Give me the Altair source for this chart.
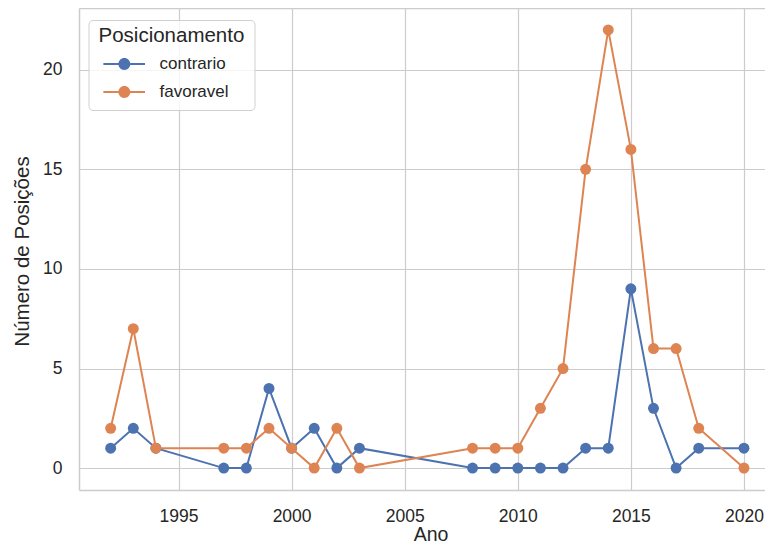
import altair as alt
import pandas as pd

anos = [1992, 1993, 1994, 1997, 1998, 1999, 2000, 2001, 2002, 2003, 2008,
        2009, 2010, 2011, 2012, 2013, 2014, 2015, 2016, 2017, 2018, 2020]
contrario = [1, 2, 1, 0, 0, 4, 1, 2, 0, 1, 0, 0, 0, 0, 0, 1, 1, 9, 3, 0, 1, 1]
favoravel = [2, 7, 1, 1, 1, 2, 1, 0, 2, 0, 1, 1, 1, 3, 5, 15, 22, 16, 6, 6, 2, 0]
series = ["contrario", "favoravel"]
colors = ["#4c72b0", "#dd8452"]
x_ticks = [1995, 2000, 2005, 2010, 2015, 2020]
y_ticks = [0, 5, 10, 15, 20]

rows = []
for nome, vals in zip(series, [contrario, favoravel]):
    for a, v in zip(anos, vals):
        rows.append({"Ano": a, "Posicionamento": nome, "Posicoes": v})
df = pd.DataFrame(rows)

FONT = "Liberation Sans"
TXT = "#262626"
SPINE = "#cccccc"

# line + dot legend glyph (unit = sqrt(symbolSize)/2 px)
SYMBOL = ("M-0.56,-0.16H5.85V0.16H-0.56Z "
          "M3.59,0A0.92,0.92 0 1,1 1.75,0A0.92,0.92 0 1,1 3.59,0Z")

x_scale = alt.Scale(domain=[1990.6, 2020.93], nice=False, zero=False)
y_scale = alt.Scale(domain=[-1.1, 23.1], nice=False, zero=False)

x_bottom = alt.Axis(values=x_ticks, format="d", title="Ano", orient="bottom",
                    domain=True, domainColor=SPINE, domainWidth=1.5,
                    titleBaseline="alphabetic", titleY=50, titleX=351.5,
                    titleFontSize=19.5)
x_top = alt.Axis(orient="top", labels=False, grid=False, title=None,
                 domain=True, domainColor=SPINE, domainWidth=1.5)
y_left = alt.Axis(values=y_ticks, title="Número de Posições",
                  domain=True, domainColor=SPINE, domainWidth=1.5,
                  titleBaseline="alphabetic", titleX=-51, titleY=243,
                  titleFontSize=20.5)

legend = alt.Legend(
    title="Posicionamento", orient="none", legendX=9.5, legendY=12,
    symbolType=SYMBOL, symbolSize=169, symbolStrokeWidth=0,
    labelOffset=44, padding=10, rowPadding=10, titlePadding=5,
    titleBaseline="line-top", titleLineHeight=12,
    fillColor="rgba(255,255,255,0.8)", strokeColor="#d0d0d0",
    cornerRadius=4, titleFontSize=20.5, titleFontWeight="normal",
    labelFontSize=17, titleColor=TXT, labelColor=TXT,
    titleFont=FONT, labelFont=FONT,
)

layers = []
for i, nome in enumerate(series):
    sub = alt.Chart(df).transform_filter(alt.datum.Posicionamento == nome)
    line = sub.mark_line(strokeWidth=2, clip=True, color=colors[i]).encode(
        x=alt.X("Ano:Q", scale=x_scale, axis=x_bottom if i == 0 else None),
        y=alt.Y("Posicoes:Q", scale=y_scale, axis=y_left),
    )
    pts = sub.mark_point(filled=True, size=120, opacity=1, clip=True).encode(
        x=alt.X("Ano:Q", scale=x_scale, axis=x_top if i == 0 else None),
        y=alt.Y("Posicoes:Q", scale=y_scale, axis=y_left),
        color=alt.Color("Posicionamento:N",
                        scale=alt.Scale(domain=series, range=colors),
                        legend=legend),
    )
    layers += [line, pts]

chart = alt.layer(*layers).resolve_axis(x="independent").properties(
    width=686, height=482,
    autosize=alt.AutoSizeParams(type="none"),
    padding={"left": 71, "top": 0, "right": 0, "bottom": 54},
).configure_view(
    strokeOpacity=0
).configure_axis(
    grid=True, gridColor="#cccccc", gridWidth=1.2,
    ticks=False, tickSize=0, labelPadding=17,
    labelFont=FONT, labelFontSize=17.5, labelColor=TXT,
    titleFont=FONT, titleFontWeight="normal",
    titleColor=TXT,
)

chart.save("out.html", embed_options={"renderer": "svg", "actions": False})
